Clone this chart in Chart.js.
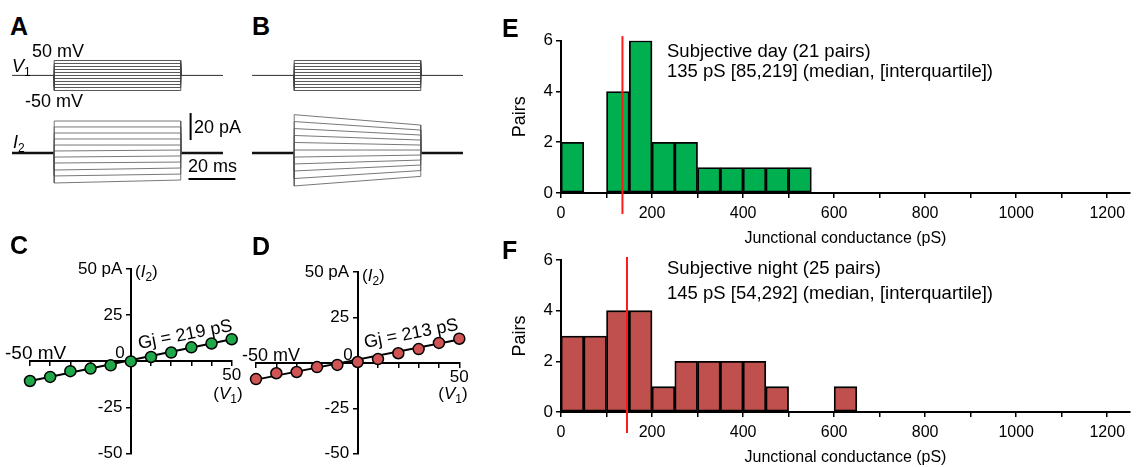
<!DOCTYPE html>
<html>
<head>
<meta charset="utf-8">
<script src="https://cdn.jsdelivr.net/npm/chart.js@4.4.1/dist/chart.umd.min.js"></script>
<style>
  body { margin: 0; background: #fff; width: 1136px; height: 467px; position: relative; overflow: hidden;
         font-family: 'Liberation Sans', Arial, sans-serif; color: #000; }
  canvas { position: absolute; }
  .t { position: absolute; line-height: 1; white-space: nowrap; transform: translateY(-50%); font-size: 18px; }
  .c { transform: translate(-50%, -50%); }
  .L { font-weight: bold; font-size: 25px; }
  .s { font-size: 12px; position: relative; top: 4px; }
  .n { font-size: 18.5px; }
</style>
</head>
<body>
<canvas id="chartA" style="left:12px;top:40px" width="229" height="160"></canvas>
<canvas id="chartB" style="left:252px;top:40px" width="229" height="160"></canvas>
<canvas id="chartC" style="left:0;top:230px" width="250" height="237"></canvas>
<canvas id="chartD" style="left:240px;top:230px" width="240" height="237"></canvas>
<canvas id="chartE" style="left:500px;top:0" width="636" height="250"></canvas>
<canvas id="chartF" style="left:500px;top:230px" width="636" height="237"></canvas>

<div class="t L" style="left:10px;top:26px">A</div>
<div class="t L" style="left:252px;top:26px">B</div>
<div class="t L" style="left:10px;top:245px">C</div>
<div class="t L" style="left:252px;top:246px">D</div>
<div class="t L" style="left:502px;top:28px">E</div>
<div class="t L" style="left:502px;top:250px">F</div>

<div class="t" style="left:32px;top:51px">50 mV</div>
<div class="t" style="left:12px;top:66px"><i>V</i><span class="s">1</span></div>
<div class="t" style="left:25px;top:101px">-50 mV</div>
<div class="t" style="left:13px;top:142px"><i>I</i><span class="s">2</span></div>
<div class="t" style="left:194px;top:127px">20 pA</div>
<div class="t" style="left:188px;top:166px">20 ms</div>

<div class="t" style="left:135px;top:271px;font-size:17px">(<i>I</i><span class="s">2</span>)</div>
<div class="t c" style="left:120px;top:352px;font-size:17px">0</div>
<div class="t" style="left:5px;top:352px;font-size:19px">-50 mV</div>
<div class="t c" style="left:228px;top:393px;font-size:17px">(<i>V</i><span class="s">1</span>)</div>
<div class="t c" style="left:185px;top:334px;transform:translate(-50%,-50%) rotate(-11deg)">Gj = 219 pS</div>

<div class="t" style="left:362px;top:275px;font-size:17px">(<i>I</i><span class="s">2</span>)</div>
<div class="t c" style="left:348px;top:354px;font-size:17px">0</div>
<div class="t" style="left:242px;top:355px">-50 mV</div>
<div class="t c" style="left:453px;top:393px;font-size:17px">(<i>V</i><span class="s">1</span>)</div>
<div class="t c" style="left:411px;top:333px;transform:translate(-50%,-50%) rotate(-11deg)">Gj = 213 pS</div>

<div class="t n" style="left:667px;top:51px">Subjective day (21 pairs)</div>
<div class="t n" style="left:667px;top:71px">135 pS [85,219] (median, [interquartile])</div>
<div class="t n" style="left:667px;top:267.5px">Subjective night (25 pairs)</div>
<div class="t n" style="left:667px;top:292.5px">145 pS [54,292] (median, [interquartile])</div>

<script>
// Voltage protocol (V1) and recorded current (I2)
const stepLevelsMV = [-50, -40, -30, -20, -10, 0, 10, 20, 30, 40, 50];
const sweepTimesMS = [0, 18, 72, 90]; // sweep start, step on, step off, sweep end
const currentStartA = [23.7, 19.3, 14.8, 10.4, 5.9, 1.5, -3.0, -7.4, -12.6, -17.0, -22.2];
const currentEndA = [23.7, 19.3, 14.8, 10.4, 5.9, 2.2, -2.2, -6.7, -11.1, -15.6, -20.0];
const currentStartB = [28.4, 23.3, 18.1, 13.0, 7.8, 2.2, -3.0, -8.1, -13.3, -18.9, -24.4];
const currentEndB = [20.7, 17.0, 13.3, 9.6, 5.9, 2.2, -1.5, -5.2, -8.9, -13.0, -17.3];
const scaleBarPA = 20;
const scaleBarMS = 20;

// I-V relations
const ivVoltage = [-50, -40, -30, -20, -10, 0, 10, 20, 30, 40, 50];
const ivCurrentC = [-10.6, -8.4, -5.3, -3.9, -2.1, 0, 2.4, 4.8, 7.6, 9.7, 12.0];
const ivCurrentD = [-8.9, -5.7, -5.0, -2.3, -1.1, 0.5, 2.1, 5.3, 7.6, 11.0, 13.3];
const fitC = [-10.6, 12.0];
const fitD = [-9.2, 12.9];

// Histograms of junctional conductance (50 pS bins)
const binStartPS = [0, 50, 100, 150, 200, 250, 300, 350, 400, 450, 500, 550, 600];
const binWidthPS = 50;
const dayPairs = [2, 0, 4, 6, 2, 2, 1, 1, 1, 1, 1, 0, 0];
const nightPairs = [3, 3, 4, 4, 1, 2, 2, 2, 2, 1, 0, 0, 1];
const medianDay = 135;
const medianNight = 145;

Chart.defaults.font.family = "'Liberation Sans', Arial, sans-serif";
Chart.defaults.color = '#000';

const noUi = { legend: { display: false }, tooltip: { enabled: false } };

function traceChart(id, startLevels, endLevels, scaleBars) {
  const [t0, t1, t2, t3] = sweepTimesMS;
  const sets = [];
  stepLevelsMV.forEach(v => {
    sets.push({
      yAxisID: 'yV', borderColor: '#444', borderWidth: 0.9,
      data: [{x: t0, y: 0}, {x: t1, y: 0}, {x: t1, y: v}, {x: t2, y: v}, {x: t2, y: 0}, {x: t3, y: 0}]
    });
  });
  startLevels.forEach((s, i) => {
    sets.push({
      yAxisID: 'yI', borderColor: '#555', borderWidth: 0.8,
      data: [{x: t1, y: 0}, {x: t1, y: s}, {x: t2, y: endLevels[i]}, {x: t2, y: 0}]
    });
  });
  // holding current before and after the step
  sets.push({ yAxisID: 'yI', borderColor: '#111', borderWidth: 2.5, data: [{x: t0, y: 0}, {x: t1, y: 0}] });
  sets.push({ yAxisID: 'yI', borderColor: '#111', borderWidth: 2.5, data: [{x: t2, y: 0}, {x: t3, y: 0}] });
  if (scaleBars) {
    sets.push({ yAxisID: 'yI', borderColor: '#000', borderWidth: 2,
      data: [{x: 76.2, y: 9.6}, {x: 76.2, y: 9.6 + scaleBarPA}] });
    sets.push({ yAxisID: 'yI', borderColor: '#000', borderWidth: 2,
      data: [{x: 75.3, y: -19.3}, {x: 75.3 + scaleBarMS, y: -19.3}] });
  }
  sets.forEach(d => { d.pointRadius = 0; d.tension = 0; d.fill = false; });

  new Chart(document.getElementById(id), {
    type: 'line',
    data: { datasets: sets },
    options: {
      responsive: false, animation: false,
      plugins: noUi,
      layout: { padding: 0 },
      scales: {
        x: { type: 'linear', min: 0, max: 97.7, display: false },
        yV: { type: 'linear', min: -415, max: 118.3, display: false },
        yI: { type: 'linear', min: -34.8, max: 83.7, display: false }
      }
    }
  });
}

function ivChart(id, current, fit, colour, pad) {
  const axisGrid = { drawOnChartArea: false, color: '#000', lineWidth: 1.5, tickLength: 4 };
  const axisBorder = { color: '#000', width: 2 };
  new Chart(document.getElementById(id), {
    type: 'scatter',
    data: {
      datasets: [
        { data: ivVoltage.map((v, i) => ({x: v, y: current[i]})),
          backgroundColor: colour, borderColor: '#000', borderWidth: 1.5, pointRadius: 5.5, clip: false, order: 0 },
        { type: 'line', data: [{x: ivVoltage[0], y: fit[0]}, {x: ivVoltage[ivVoltage.length - 1], y: fit[1]}],
          borderColor: '#000', borderWidth: 2, pointRadius: 0, clip: false, order: 1 }
      ]
    },
    options: {
      responsive: false, animation: false,
      plugins: noUi,
      layout: { padding: pad },
      scales: {
        x: { type: 'linear', min: -50, max: 50, position: { y: 0 },
             afterFit: s => { s.height = 0; },
             grid: axisGrid, border: axisBorder,
             ticks: { stepSize: 10, autoSkip: false, maxRotation: 0, padding: 0, font: { size: 17 },
                      callback: v => v === 50 ? '50' : '' } },
        y: { type: 'linear', min: -50, max: 50, position: { x: 0 },
             afterFit: s => { s.width = 0; },
             grid: axisGrid, border: axisBorder,
             ticks: { stepSize: 25, autoSkip: false, font: { size: 17 },
                      // labels of a centred axis sit flush on the line, so keep a gap
                      callback: v => v === 0 ? '' : (v === 50 ? '50 pA' : v) + '\u2002' } }
      }
    }
  });
}

function histChart(id, counts, median, colour, padTop, xHeight, titlePad, lineEnds) {
  const bars = binStartPS.map((s, i) => ({x: s + binWidthPS / 2, y: counts[i] ? counts[i] : null}));
  new Chart(document.getElementById(id), {
    type: 'bar',
    data: {
      datasets: [
        { type: 'line', data: [{x: median, y: lineEnds[0]}, {x: median, y: lineEnds[1]}],
          borderColor: '#ff1a1a', borderWidth: 2, pointRadius: 0, clip: false, order: 0 },
        { data: bars, backgroundColor: colour, borderColor: '#000', borderWidth: 1.8, borderSkipped: false,
          barPercentage: 1, categoryPercentage: 1, order: 1 }
      ]
    },
    options: {
      responsive: false, animation: false,
      plugins: noUi,
      layout: { padding: { top: padTop, right: 6, left: 0, bottom: 0 } },
      scales: {
        x: { type: 'linear', min: 0, max: 1250, offset: false,
             grid: { drawOnChartArea: false, offset: false, color: '#000', lineWidth: 1.5, tickLength: 5 },
             border: { color: '#000', width: 2 },
             ticks: { stepSize: 100, includeBounds: false, autoSkip: false, maxRotation: 0, padding: 6,
                      font: { size: 16 }, callback: v => v % 200 === 0 ? v : '' },
             afterBuildTicks: s => { s.ticks = s.ticks.filter(t => t.value % 100 === 0); },
             afterFit: s => { s.height = xHeight; },
             title: { display: true, text: 'Junctional conductance (pS)', font: { size: 16 },
                      padding: { top: 0, bottom: titlePad } } },
        y: { type: 'linear', min: 0, max: 6,
             grid: { drawOnChartArea: false, color: '#000', lineWidth: 1.5, tickLength: 5 },
             border: { color: '#000', width: 2 },
             ticks: { stepSize: 2, padding: 3, font: { size: 17 } },
             afterFit: s => { s.width = 61; },
             title: { display: true, text: 'Pairs', font: { size: 18 }, padding: { top: 9, bottom: 0 } } }
      }
    }
  });
}

traceChart('chartA', currentStartA, currentEndA, true);
traceChart('chartB', currentStartB, currentEndB, false);
ivChart('chartC', ivCurrentC, fitC, '#1fa84a', { left: 30, right: 18.3, top: 39, bottom: 10 });
ivChart('chartD', ivCurrentD, fitD, '#d15454', { left: 16, right: 20.7, top: 42, bottom: 7 });
histChart('chartE', dayPairs, medianDay, '#00b050', 40.7, 57, 2, [-0.83, 6.18]);
histChart('chartF', nightPairs, medianNight, '#c0504d', 30, 55, 0, [-0.83, 6.12]);
</script>
</body>
</html>
